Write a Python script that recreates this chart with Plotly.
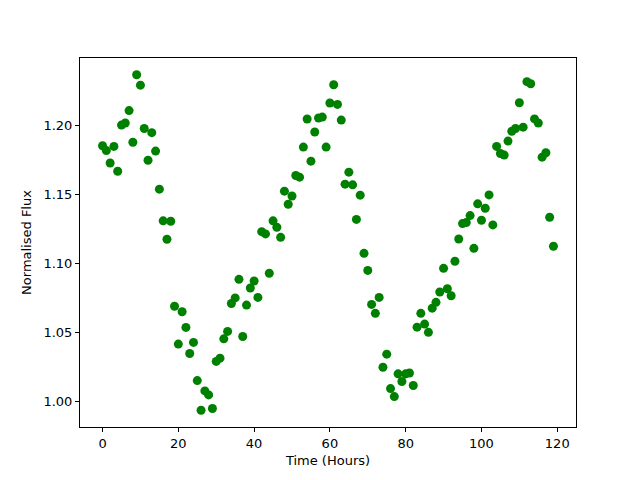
import plotly.graph_objects as go

hours = list(range(120))
flux = [
    1.1855, 1.182, 1.173, 1.185, 1.167, 1.2005, 1.202, 1.211, 1.188, 1.237,
    1.2295, 1.198, 1.175, 1.195, 1.1816, 1.154, 1.131, 1.1176, 1.1307, 1.069,
    1.0415, 1.065, 1.0536, 1.0347, 1.0427, 1.015, 0.9935, 1.0075, 1.0046, 0.9947,
    1.0289, 1.0313, 1.0453, 1.0507, 1.071, 1.075, 1.0885, 1.047, 1.0698, 1.0822,
    1.0873, 1.0754, 1.1231, 1.1215, 1.0929, 1.131, 1.1263, 1.119, 1.1525, 1.143,
    1.149, 1.1639, 1.1627, 1.1845, 1.2049, 1.1743, 1.1955, 1.2056, 1.2063, 1.1845,
    1.2165, 1.2298, 1.2155, 1.2041, 1.1576, 1.1663, 1.1571, 1.132, 1.1496, 1.1074,
    1.095, 1.0703, 1.0638, 1.0754, 1.0247, 1.0342, 1.0092, 1.0034, 1.0199, 1.0143,
    1.0199, 1.0205, 1.0114, 1.0538, 1.0638, 1.056, 1.050, 1.0676, 1.0718, 1.0793,
    1.0965, 1.0817, 1.0766, 1.1016, 1.1178, 1.129, 1.1298, 1.1348, 1.111, 1.1433,
    1.1314, 1.1401, 1.1498, 1.128, 1.185, 1.1799, 1.1787, 1.1889, 1.196, 1.198,
    1.2167, 1.199, 1.232, 1.2305, 1.205, 1.202, 1.1772, 1.1804, 1.1336, 1.1125,
]

x_title = "Time (Hours)"
y_title = "Normalised Flux"

fig = go.Figure()
fig.add_trace(go.Scatter(
    x=hours, y=flux, mode="markers",
    marker=dict(color="#008000", size=9, line=dict(width=0)),
    showlegend=False,
))

font = dict(family="DejaVu Sans", size=13, color="black")
axis_common = dict(
    showline=True, mirror=True, linecolor="black", linewidth=1,
    ticks="outside", ticklen=4, tickwidth=1, tickcolor="black",
    showgrid=False, zeroline=False, tickfont=font, automargin=False,
)
fig.update_layout(
    width=632, height=472,
    paper_bgcolor="white", plot_bgcolor="white",
    margin=dict(l=72, r=64, t=50, b=53),
    font=font,
    xaxis=dict(range=[-5.95, 124.95], dtick=20, tick0=0,
               title=dict(text=x_title, font=font, standoff=6), **axis_common),
    yaxis=dict(range=[0.9813, 1.2492], dtick=0.05, tick0=1.0, tickformat=".2f",
               title=dict(text=y_title, font=font, standoff=8), **axis_common),
)

fig.write_html("out.html")
